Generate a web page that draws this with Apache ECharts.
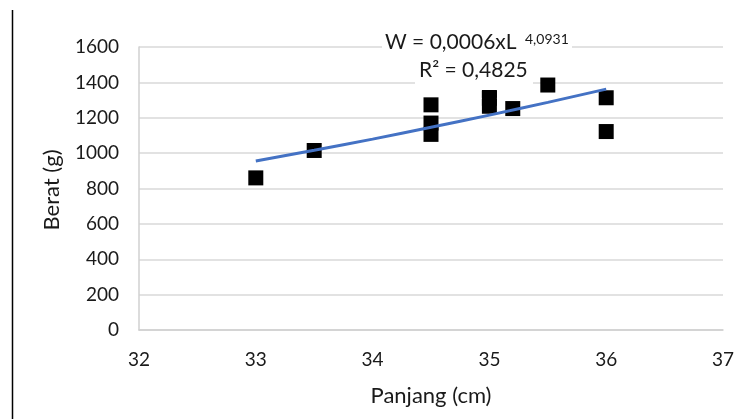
<!DOCTYPE html>
<html>
<head>
<meta charset="utf-8">
<script src="https://cdn.jsdelivr.net/npm/echarts@6/dist/echarts.min.js"></script>
<style>html,body{margin:0;padding:0;background:#fff;}#c{width:756px;height:419px;}</style>
</head>
<body>
<div id="c"></div>
<script>
// Observed data (Panjang cm, Berat g)
const panjang = [33, 33.5, 34.5, 34.5, 34.5, 35, 35, 35, 35.2, 35.5, 36, 36];
const berat   = [860, 1015, 1273, 1170, 1106, 1355, 1310, 1265, 1252, 1385, 1313, 1122];
// Power trendline
const trendX = [33, 33.5, 34, 34.5, 35, 35.5, 36];
const trendY = [955, 1016, 1079, 1146, 1215, 1287, 1362];
const xTicks = [32, 33, 34, 35, 36, 37];
const yTicks = [0, 200, 400, 600, 800, 1000, 1200, 1400, 1600];
const yTitle = 'Berat (g)';
const xTitle = 'Panjang (cm)';

const FONT = 'Lato, "Open Sans", sans-serif';
const TXT = '#1a1a1a';
const chart = echarts.init(document.getElementById('c'), null, {renderer: 'canvas'});
chart.setOption({
  animation: false,
  backgroundColor: '#fff',
  grid: {left: 139, right: 33, top: 47, bottom: 89},
  xAxis: {
    type: 'value', min: xTicks[0], max: xTicks[xTicks.length - 1], interval: 1,
    name: xTitle, nameLocation: 'middle', nameGap: 55, nameMoveOverlap: false,
    nameTextStyle: {fontFamily: FONT, fontSize: 22, color: TXT},
    axisLine: {show: true, lineStyle: {color: '#d0d0d0', width: 1.5}},
    axisTick: {show: false},
    axisLabel: {fontFamily: FONT, fontSize: 19, color: TXT, margin: 20},
    splitLine: {show: false}
  },
  yAxis: {
    type: 'value', min: yTicks[0], max: yTicks[yTicks.length - 1], interval: 200,
    axisLine: {show: true, lineStyle: {color: '#d0d0d0', width: 1.5}},
    axisTick: {show: false},
    axisLabel: {fontFamily: FONT, fontSize: 19, color: TXT, margin: 20, formatter: v => String(v)},
    splitLine: {show: true, lineStyle: {color: '#d9d9d9', width: 1.5}}
  },
  series: [
    {
      type: 'scatter',
      symbol: 'rect', symbolSize: 15,
      itemStyle: {color: '#000', opacity: 1},
      data: panjang.map((x, i) => [x, berat[i]]),
      z: 2
    },
    {
      type: 'line',
      smooth: true, showSymbol: false,
      lineStyle: {color: '#4472c4', width: 3},
      data: trendX.map((x, i) => [x, trendY[i]]),
      z: 3
    }
  ],
  graphic: [
    {type: 'line', shape: {x1: 12.5, y1: 10, x2: 12.5, y2: 419}, style: {stroke: '#000', lineWidth: 1.5}},
    {type: 'text', x: 52, y: 190, rotation: Math.PI / 2,
     style: {text: yTitle, font: '22px ' + FONT, fill: TXT, align: 'center', verticalAlign: 'middle'}},
    {type: 'rect', shape: {x: 382, y: 40, width: 190, height: 14}, style: {fill: '#fff'}, z: 50},
    {type: 'rect', shape: {x: 415, y: 76, width: 118, height: 14}, style: {fill: '#fff'}, z: 50},
    {type: 'text', left: 385, top: 32, z: 60, style: {text: 'W = 0,0006xL', font: '21px ' + FONT, fill: TXT}},
    {type: 'text', left: 525, top: 32, z: 60, style: {text: '4,0931', font: '14px ' + FONT, fill: TXT}},
    {type: 'text', left: 419, top: 60, z: 60, style: {text: 'R² = 0,4825', font: '21px ' + FONT, fill: TXT}}
  ]
});
</script>
</body>
</html>
